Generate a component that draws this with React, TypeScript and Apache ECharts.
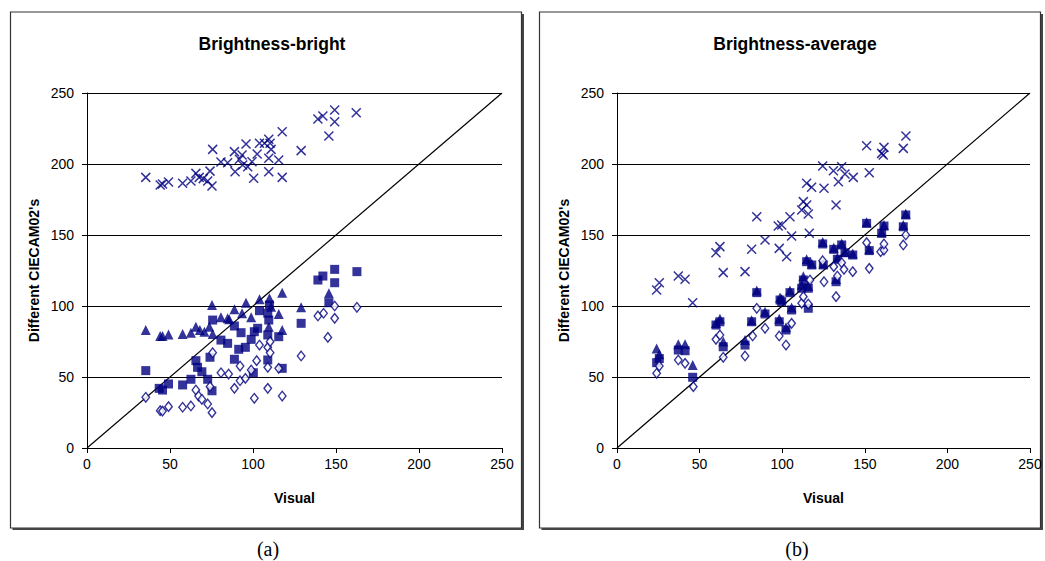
import React, { useEffect, useRef } from "react";
import * as echarts from "echarts";

// ---------- Data (Visual, Different CIECAM02's) ----------
// (a) Brightness-bright
const brightCross: [number, number][] = [
  [35.4, 190.6], [44.1, 185.2], [45.5, 185.9], [49.1, 187.3], [57.6, 186.4], [62.6, 188],
  [65.6, 193.4], [67.6, 190.6], [70, 189.7], [72.7, 188], [74.1, 195], [75.3, 184.5],
  [75.7, 210.3], [80.7, 201.4], [84.7, 200.9], [89.2, 194.6], [88.8, 208.7], [91.8, 203.3],
  [93.4, 206.3], [93.8, 199.3], [95.8, 214.1], [96.8, 198.1], [99.4, 201.6], [100.4, 189.9],
  [102.5, 207], [103.9, 214.6], [106.9, 214.6], [109.5, 217.4], [110.3, 214.6], [109.5, 204],
  [109.5, 194.6], [110.9, 210.3], [115.5, 202.8], [117.6, 190.6], [117.6, 222.7], [129, 209.4],
  [139.1, 231.7], [142.1, 233.8], [145.7, 219.7], [149.2, 238], [149.2, 229.8], [162.2, 236.1]
];
const brightTriangle: [number, number][] = [
  [35.4, 83.1], [44.1, 78.9], [45.5, 78.9], [49.1, 80], [57.6, 80.3], [62.6, 81.2],
  [65.6, 85.4], [68, 83.1], [70.7, 81.9], [73.7, 85.4], [75.3, 100.7], [75.7, 80.3],
  [80.7, 92], [84.7, 91.3], [85.7, 90.6], [88.8, 97.7], [93.4, 94.9], [95.8, 102.3],
  [98.9, 92], [103.9, 104.7], [109.9, 105.4], [110.9, 99.5], [115.5, 94.4], [117.6, 109.4],
  [117.6, 83.1], [109.5, 85.4], [129, 99.1], [145.7, 108.9]
];
const brightSquare: [number, number][] = [
  [35.4, 54.5], [43.5, 42], [45.5, 40.8], [49.1, 45.1], [57.6, 44.4], [62.6, 48.4],
  [65.6, 61.5], [66.6, 56.8], [69.2, 53.7], [72.7, 48.4], [74.1, 63.9], [75.3, 40.3],
  [75.7, 90.1], [80.7, 76], [84.7, 73.7], [88.8, 85.9], [88.8, 62.5], [91.4, 69.5],
  [92.8, 81.2], [95.4, 70.9], [98.9, 76.5], [100.8, 81.9], [102.8, 84.3], [100.2, 53],
  [103.9, 96.7], [108.9, 94.9], [109.5, 90.1], [109.9, 100.7], [108.9, 79.6], [108.9, 62],
  [115.5, 78.4], [117.6, 56.1], [129, 87.8], [139.1, 118.3], [142.1, 121.1], [145.7, 102.3],
  [149.2, 125.8], [149.2, 116.4], [162.6, 124.2]
];
const brightDiamond: [number, number][] = [
  [35.4, 35.7], [44.1, 26.3], [45.5, 26], [49.1, 29.1], [57.6, 28.7], [62.6, 29.6],
  [65.6, 40.8], [67.2, 36.6], [69.2, 34.3], [72.7, 31], [74.1, 43.2], [75.3, 24.9],
  [75.7, 67.1], [80.7, 53], [85.3, 52.1], [88.8, 42], [92.2, 57.7], [92.2, 47.4],
  [95.4, 49], [98.9, 54.9], [100.8, 35], [102.2, 61.5], [103.9, 72.5], [108.9, 70.9],
  [110.3, 74.9], [110.3, 67.1], [108.9, 56.8], [108.9, 42], [115.5, 56.1], [117.6, 36.6],
  [129, 64.8], [139.1, 93], [142.5, 94.9], [149.2, 100], [149.2, 91.3], [145.1, 77.9],
  [162.6, 99.1]
];

// (b) Brightness-average
const averageCross: [number, number][] = [
  [24, 111.3], [25.6, 116.4], [37.1, 121.1], [41.2, 118.8], [45.8, 102.3], [59.9, 137.5],
  [62.3, 141.8], [64.3, 123.5], [77.5, 124.2], [81.5, 139.9], [84.6, 162.9], [89.6, 146.5],
  [97.6, 156.3], [99.7, 157], [98.2, 140.6], [102.7, 134.7], [104.7, 162.9], [105.7, 149.3],
  [111.8, 167.6], [112.8, 173.5], [114.8, 171.1], [115.8, 164.8], [114.8, 186.4], [116.4, 151.2],
  [117.8, 183.6], [124.5, 198.6], [125.3, 182.9], [131, 195.3], [132.6, 171.1], [134, 187.5],
  [136, 198.1], [138, 193], [143, 190.6], [151.1, 212.9], [152.7, 193.9], [160.2, 207.5],
  [161.6, 211.7], [161.2, 206.3], [173.3, 211], [174.9, 219.7]
];
const averageTriangle: [number, number][] = [
  [24, 70], [25.6, 66], [37.1, 73], [41.2, 73], [45.8, 58.5], [59.9, 88], [62.3, 91],
  [64.3, 75], [77.5, 76], [81.5, 90], [84.6, 111], [89.6, 96], [98.7, 106], [99.7, 105],
  [98.2, 91], [102.3, 85], [104.7, 111], [105.7, 99], [111.8, 115], [112.8, 121],
  [114.8, 133], [115.8, 114], [117.9, 130], [124.9, 130], [124.5, 145], [131.2, 141],
  [133.4, 134], [136, 144], [138, 138], [142.7, 137], [132.6, 119], [151.1, 159],
  [152.7, 140], [160.2, 152], [161.6, 157], [173.3, 157], [174.8, 165]
];
const averageSquare: [number, number][] = [
  [24, 60.1], [25.6, 63], [37.1, 69], [41.2, 68.5], [45.8, 49.8], [59.9, 86.6], [62.3, 88.9],
  [64.3, 71.3], [77.5, 72.5], [81.5, 88.9], [84.6, 109.4], [89.6, 94.4], [98.7, 104.2],
  [99.7, 103], [98.2, 88.9], [102.3, 83.1], [104.7, 109.4], [105.7, 97.2], [111.8, 112.5],
  [112.8, 118.3], [115.8, 112.5], [115.8, 98.4], [114.8, 131.2], [117.9, 128.9], [124.9, 128.9],
  [124.5, 143.7], [131.2, 139.9], [133.4, 132.9], [136, 143], [138, 137.5], [142.7, 135.9],
  [132.6, 117.1], [151.1, 158.2], [152.7, 139], [160.2, 151.2], [161.6, 156.3], [173.3, 155.8],
  [174.8, 164.1]
];
const averageDiamond: [number, number][] = [
  [24, 52.6], [25.6, 57.7], [37.1, 62], [41.2, 59.6], [46.2, 43.2], [59.9, 76.5], [62.3, 79.6],
  [64.3, 63.9], [77.5, 64.8], [82.1, 78.9], [84.6, 98.4], [89.6, 84.3], [98.2, 78.9],
  [102.3, 72.5], [105.7, 87.8], [111.8, 101.9], [112.8, 106.6], [115.8, 101.4], [116.8, 118.3],
  [124.5, 131.9], [125.3, 117.1], [131.2, 127.7], [132.6, 106.6], [133.4, 121.1], [136, 130.5],
  [137.4, 125.8], [142.7, 124.2], [151.1, 144.6], [152.7, 126.5], [159.6, 138.2], [161.6, 139.4],
  [161.6, 143.7], [173.3, 143], [174.8, 150]
];

const diagonal: [number, number][] = [[0, 0], [250, 250]];
const titles = ["Brightness-bright", "Brightness-average"];
const captions = ["(a)", "(b)"];
const xName = "Visual";
const yName = "Different CIECAM02's";

const NAVY = "#000080";
const FONT = "Arial, 'Liberation Sans', sans-serif";
const CROSS = "path://M0,0L10,10M10,0L0,10";

export default function App() {
  const ref = useRef<HTMLDivElement>(null);

  useEffect(() => {
    if (!ref.current) return;
    const chart = echarts.init(ref.current, undefined, { renderer: "svg" });

    const grids = [
      { left: 87, top: 93, width: 415, height: 355 },
      { left: 617, top: 93, width: 413, height: 355 },
    ];

    const mkX = (i: number) => ({
      gridIndex: i,
      type: "value",
      min: 0,
      max: 250,
      interval: 50,
      name: xName,
      nameLocation: "middle",
      nameGap: 43,
      nameTextStyle: { fontWeight: "bold", fontSize: 14, color: "#000", fontFamily: FONT },
      axisLine: { lineStyle: { color: "#000", width: 1 } },
      axisTick: { length: 5, lineStyle: { color: "#000" } },
      axisLabel: { color: "#000", fontSize: 14, margin: 9, fontFamily: FONT },
      splitLine: { show: false },
    });
    const mkY = (i: number) => ({
      gridIndex: i,
      type: "value",
      min: 0,
      max: 250,
      interval: 50,
      name: yName,
      nameLocation: "middle",
      nameGap: 46,
      nameTextStyle: { fontWeight: "bold", fontSize: 14, color: "#000", fontFamily: FONT },
      axisLine: { show: true, lineStyle: { color: "#000", width: 1 } },
      axisTick: { show: true, length: 5, lineStyle: { color: "#000" } },
      axisLabel: { color: "#000", fontSize: 14, margin: 13, fontFamily: FONT },
      splitLine: { show: true, lineStyle: { color: "#000", width: 1 } },
    });

    const mkSeries = (i: number, cross: any, tri: any, sq: any, dia: any) => [
      {
        type: "line",
        xAxisIndex: i,
        yAxisIndex: i,
        data: diagonal,
        symbol: "none",
        lineStyle: { color: "#000", width: 1.2 },
        silent: true,
        z: 1,
      },
      {
        type: "scatter",
        xAxisIndex: i,
        yAxisIndex: i,
        data: cross,
        symbol: CROSS,
        symbolSize: 9,
        itemStyle: { color: "none", borderColor: NAVY, borderWidth: 1.5 },
        z: 2,
      },
      {
        type: "scatter",
        xAxisIndex: i,
        yAxisIndex: i,
        data: tri,
        symbol: "triangle",
        symbolSize: [10, 10],
        itemStyle: { color: NAVY },
        z: 3,
      },
      {
        type: "scatter",
        xAxisIndex: i,
        yAxisIndex: i,
        data: sq,
        symbol: "rect",
        symbolSize: 9,
        itemStyle: { color: NAVY },
        z: 4,
      },
      {
        type: "scatter",
        xAxisIndex: i,
        yAxisIndex: i,
        data: dia,
        symbol: "diamond",
        symbolSize: [7.5, 9.5],
        itemStyle: { color: "#fff", borderColor: NAVY, borderWidth: 1.4 },
        z: 5,
      },
    ];

    const panel = (x: number, w: number) => [
      {
        type: "rect",
        shape: { x, y: 12, width: w, height: 516 },
        style: { fill: "none", stroke: "#333", lineWidth: 1.2 },
        silent: true,
      },
      {
        type: "line",
        shape: { x1: x + 2, y1: 529, x2: x + w + 1.5, y2: 529 },
        style: { stroke: "#444", lineWidth: 2 },
        silent: true,
      },
      {
        type: "line",
        shape: { x1: x + w + 1.5, y1: 14, x2: x + w + 1.5, y2: 530 },
        style: { stroke: "#444", lineWidth: 2 },
        silent: true,
      },
    ];

    const option: any = {
      animation: false,
      backgroundColor: "#fff",
      title: [
        {
          text: titles[0],
          left: 267,
          top: 30,
          textAlign: "center",
          textStyle: { fontWeight: "bold", fontSize: 17.5, color: "#000", fontFamily: FONT },
        },
        {
          text: titles[1],
          left: 790,
          top: 30,
          textAlign: "center",
          textStyle: { fontWeight: "bold", fontSize: 17.5, color: "#000", fontFamily: FONT },
        },
      ],
      grid: grids,
      xAxis: [mkX(0), mkX(1)],
      yAxis: [mkY(0), mkY(1)],
      series: [
        ...mkSeries(0, brightCross, brightTriangle, brightSquare, brightDiamond),
        ...mkSeries(1, averageCross, averageTriangle, averageSquare, averageDiamond),
      ],
      graphic: [
        ...panel(10.5, 511),
        ...panel(539.5, 501),
        {
          type: "text",
          x: 268,
          y: 549,
          style: {
            text: captions[0],
            font: "20px 'Times New Roman', 'Liberation Serif', serif",
            fill: "#000",
            textAlign: "center",
            textVerticalAlign: "middle",
          },
        },
        {
          type: "text",
          x: 797,
          y: 549,
          style: {
            text: captions[1],
            font: "20px 'Times New Roman', 'Liberation Serif', serif",
            fill: "#000",
            textAlign: "center",
            textVerticalAlign: "middle",
          },
        },
      ],
    };

    chart.setOption(option);
    return () => chart.dispose();
  }, []);

  return (
    <div
      ref={ref}
      style={{ position: "absolute", left: 0, top: 0, width: 1045, height: 561, background: "#fff" }}
    />
  );
}
